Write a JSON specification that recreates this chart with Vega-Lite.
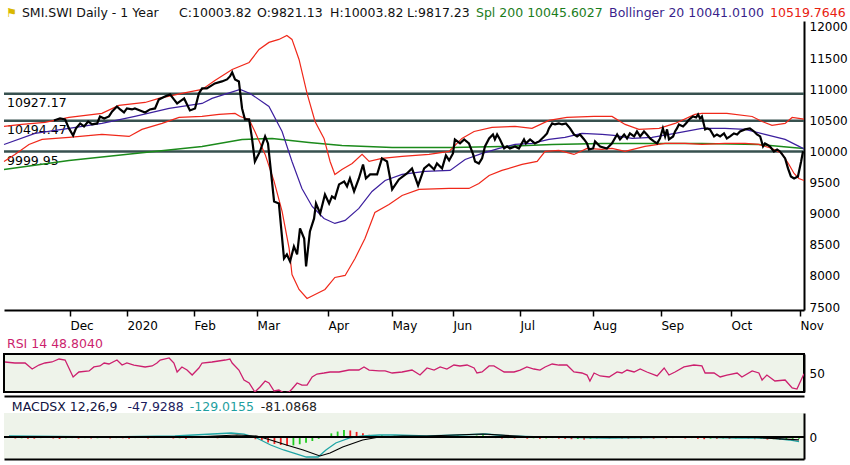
{
  "$schema": "https://vega.github.io/schema/vega-lite/v6.json",
  "padding": {"left": 1, "top": 7, "right": 3, "bottom": 3},
  "background": "white",
  "config": {
    "font": "DejaVu Sans",
    "view": {"stroke": null},
    "axis": {"grid": false, "title": null, "labelFont": "DejaVu Sans", "labelColor": "black", "labelFontSize": 12, "domainColor": "black", "domainWidth": 2, "labelOverlap": false}
  },
  "datasets": {
    "levels": [{"d": 0, "v": 10927.17}, {"d": 0, "v": 10494.47}, {"d": 0, "v": 9999.95}],
    "header": [
      {"t": "⚑", "d": 0.6, "v": 12160, "k": "flag"},
      {"t": "SMI.SWI Daily -  1 Year", "d": 5.6, "v": 12160, "k": "price"},
      {"t": "C:10003.82", "d": 54.7, "v": 12160, "k": "price"},
      {"t": "O:9821.13", "d": 79.1, "v": 12160, "k": "price"},
      {"t": "H:10003.82", "d": 101.9, "v": 12160, "k": "price"},
      {"t": "L:9817.23", "d": 125.9, "v": 12160, "k": "price"},
      {"t": "Spl 200 10045.6027", "d": 147.5, "v": 12160, "k": "spl"},
      {"t": "Bollinger 20 10041.0100", "d": 189.1, "v": 12160, "k": "boll"},
      {"t": "10519.7646", "d": 239.4, "v": 12160, "k": "band"}
    ],
    "macdhead": [
      {"t": "MACDSX 12,26,9", "d": 0.9, "k": "lbl"},
      {"t": "-47.9288", "d": 37.5, "k": "hist"},
      {"t": "-129.0155", "d": 57.2, "k": "macd"},
      {"t": "-81.0868", "d": 79.7, "k": "sig"}
    ],
    "price": [
      {"d":15.6,"v":10498},{"d":17.5,"v":10530},{"d":19.1,"v":10514},{"d":20.3,"v":10370},{"d":21.6,"v":10257},{"d":22.5,"v":10370},{"d":23.8,"v":10450},{"d":25,"v":10402},{"d":26.3,"v":10482},{"d":27.5,"v":10434},{"d":29.1,"v":10450},{"d":30,"v":10562},{"d":31.3,"v":10530},{"d":32.8,"v":10562},{"d":33.8,"v":10643},{"d":35.3,"v":10723},{"d":36.3,"v":10675},{"d":37.5,"v":10627},{"d":38.4,"v":10691},{"d":40,"v":10675},{"d":40.9,"v":10691},{"d":42.5,"v":10659},{"d":44.1,"v":10627},{"d":45.6,"v":10675},{"d":47.2,"v":10691},{"d":48.4,"v":10836},{"d":50.3,"v":10884},{"d":51.9,"v":10916},{"d":53.1,"v":10836},{"d":54.1,"v":10772},{"d":55,"v":10804},{"d":56.3,"v":10852},{"d":57.2,"v":10755},{"d":58.1,"v":10659},{"d":59.7,"v":10691},{"d":60.9,"v":10932},{"d":61.9,"v":11012},{"d":63.4,"v":11012},{"d":65.9,"v":11093},{"d":68.1,"v":11125},{"d":69.7,"v":11157},{"d":70.6,"v":11205},{"d":71.3,"v":11270},{"d":72.2,"v":11157},{"d":73.4,"v":11125},{"d":74.4,"v":10691},{"d":75.3,"v":10514},{"d":76.6,"v":10514},{"d":77.5,"v":10209},{"d":78.4,"v":9839},{"d":80,"v":10000},{"d":81.6,"v":10241},{"d":82.5,"v":10129},{"d":84.4,"v":9196},{"d":85.9,"v":9164},{"d":87.5,"v":8280},{"d":88.4,"v":8345},{"d":89.4,"v":8232},{"d":90.6,"v":8473},{"d":91.6,"v":8345},{"d":92.5,"v":8763},{"d":93.8,"v":8601},{"d":94.4,"v":8152},{"d":95.6,"v":8714},{"d":96.9,"v":8923},{"d":97.5,"v":9164},{"d":98.8,"v":9004},{"d":100.3,"v":9309},{"d":101.6,"v":9164},{"d":102.5,"v":9277},{"d":103.4,"v":9245},{"d":104.7,"v":9470},{"d":106.3,"v":9518},{"d":107.2,"v":9438},{"d":108.1,"v":9566},{"d":109.4,"v":9357},{"d":110.9,"v":9566},{"d":112.2,"v":9791},{"d":113.1,"v":9566},{"d":114.4,"v":9630},{"d":116.6,"v":9630},{"d":118.1,"v":9888},{"d":119.7,"v":9839},{"d":121.3,"v":9389},{"d":123.4,"v":9550},{"d":125.9,"v":9646},{"d":127.5,"v":9727},{"d":129.4,"v":9454},{"d":131.3,"v":9727},{"d":132.8,"v":9791},{"d":134.4,"v":9711},{"d":135.3,"v":9807},{"d":136.9,"v":9727},{"d":138.1,"v":9936},{"d":139.1,"v":9855},{"d":140.3,"v":9968},{"d":140.9,"v":10193},{"d":142.5,"v":10129},{"d":143.8,"v":10193},{"d":145.3,"v":10129},{"d":146.6,"v":9952},{"d":147.2,"v":9839},{"d":148.4,"v":9807},{"d":149.4,"v":9888},{"d":150.3,"v":10080},{"d":151.6,"v":10209},{"d":152.8,"v":10273},{"d":153.4,"v":10193},{"d":154.1,"v":10273},{"d":155,"v":10193},{"d":156.3,"v":10048},{"d":157.2,"v":10080},{"d":158.1,"v":10048},{"d":159.7,"v":10080},{"d":160.9,"v":10048},{"d":162.5,"v":10193},{"d":163.1,"v":10129},{"d":164.4,"v":10193},{"d":165.9,"v":10129},{"d":167.2,"v":10161},{"d":168.8,"v":10241},{"d":169.7,"v":10289},{"d":170.3,"v":10370},{"d":171.3,"v":10450},{"d":172.2,"v":10434},{"d":173.4,"v":10450},{"d":174.4,"v":10434},{"d":175.6,"v":10450},{"d":176.9,"v":10370},{"d":178.1,"v":10273},{"d":179.1,"v":10241},{"d":180,"v":10273},{"d":181.3,"v":10193},{"d":182.2,"v":10129},{"d":182.8,"v":10032},{"d":184.1,"v":10048},{"d":184.7,"v":10161},{"d":186.3,"v":10080},{"d":188.4,"v":10048},{"d":190,"v":10129},{"d":191.6,"v":10273},{"d":192.5,"v":10193},{"d":193.8,"v":10273},{"d":194.7,"v":10209},{"d":195.6,"v":10289},{"d":196.9,"v":10241},{"d":197.8,"v":10321},{"d":198.8,"v":10241},{"d":200,"v":10321},{"d":200.9,"v":10273},{"d":201.9,"v":10209},{"d":203.1,"v":10161},{"d":204.1,"v":10129},{"d":205,"v":10209},{"d":205.9,"v":10370},{"d":206.6,"v":10241},{"d":207.2,"v":10354},{"d":207.8,"v":10193},{"d":209.1,"v":10241},{"d":209.7,"v":10321},{"d":210.3,"v":10370},{"d":210.9,"v":10434},{"d":212.2,"v":10402},{"d":213.1,"v":10450},{"d":214.1,"v":10514},{"d":215.3,"v":10562},{"d":216.3,"v":10546},{"d":216.9,"v":10595},{"d":217.5,"v":10530},{"d":218.1,"v":10562},{"d":219.1,"v":10354},{"d":219.7,"v":10370},{"d":220.6,"v":10354},{"d":221.9,"v":10241},{"d":222.8,"v":10273},{"d":223.8,"v":10241},{"d":225,"v":10289},{"d":225.9,"v":10209},{"d":226.9,"v":10241},{"d":228.1,"v":10289},{"d":229.1,"v":10273},{"d":230,"v":10321},{"d":231.6,"v":10354},{"d":233.1,"v":10370},{"d":234.4,"v":10321},{"d":235.3,"v":10273},{"d":236.3,"v":10241},{"d":237.2,"v":10080},{"d":237.8,"v":10129},{"d":238.4,"v":10112},{"d":239.4,"v":10080},{"d":240.6,"v":10000},{"d":241.6,"v":10032},{"d":242.5,"v":10000},{"d":244.1,"v":9888},{"d":245,"v":9727},{"d":245.9,"v":9598},{"d":246.9,"v":9566},{"d":248.1,"v":9598},{"d":249.1,"v":9839},{"d":249.7,"v":10004}
    ],
    "upper": [
      {"d":0,"v":10402},{"d":5.6,"v":10434},{"d":12.8,"v":10466},{"d":20.3,"v":10546},{"d":30.6,"v":10611},{"d":35.9,"v":10740},{"d":44.1,"v":10787},{"d":48.4,"v":10852},{"d":55.6,"v":10932},{"d":61.9,"v":10996},{"d":65.9,"v":11141},{"d":71.3,"v":11318},{"d":76.6,"v":11430},{"d":79.7,"v":11639},{"d":82.8,"v":11752},{"d":85.9,"v":11800},{"d":88.4,"v":11864},{"d":90,"v":11800},{"d":92.2,"v":11478},{"d":94.7,"v":10932},{"d":97.2,"v":10482},{"d":100,"v":10209},{"d":101.9,"v":9839},{"d":103.4,"v":9630},{"d":105.6,"v":9711},{"d":108.8,"v":9807},{"d":111.9,"v":9952},{"d":114.1,"v":9839},{"d":118.1,"v":9888},{"d":124.4,"v":9920},{"d":132.8,"v":9952},{"d":139.1,"v":10000},{"d":143.1,"v":10209},{"d":146.9,"v":10321},{"d":152.5,"v":10386},{"d":159.7,"v":10402},{"d":165,"v":10370},{"d":170.3,"v":10498},{"d":175.9,"v":10546},{"d":184.4,"v":10562},{"d":190,"v":10562},{"d":194.1,"v":10434},{"d":198.4,"v":10354},{"d":204.7,"v":10370},{"d":209.7,"v":10450},{"d":215.9,"v":10595},{"d":218.1,"v":10611},{"d":225.9,"v":10611},{"d":233.8,"v":10562},{"d":236.9,"v":10482},{"d":240,"v":10418},{"d":244.1,"v":10450},{"d":246.3,"v":10546},{"d":250,"v":10520}
    ],
    "lower": [
      {"d":0,"v":9839},{"d":3.4,"v":9952},{"d":7.8,"v":10112},{"d":11.9,"v":10193},{"d":20.3,"v":10225},{"d":30.6,"v":10273},{"d":39.1,"v":10241},{"d":43.1,"v":10354},{"d":49.4,"v":10450},{"d":54.7,"v":10546},{"d":61.9,"v":10562},{"d":67.2,"v":10595},{"d":72.2,"v":10611},{"d":73.8,"v":10562},{"d":76.6,"v":10514},{"d":78.4,"v":10321},{"d":81.6,"v":9952},{"d":84.4,"v":9518},{"d":86.9,"v":9036},{"d":89.1,"v":8441},{"d":90,"v":8023},{"d":92.2,"v":7782},{"d":94.7,"v":7638},{"d":97.2,"v":7702},{"d":100.3,"v":7782},{"d":103.4,"v":7975},{"d":106.6,"v":8007},{"d":109.7,"v":8280},{"d":112.8,"v":8602},{"d":115.9,"v":9020},{"d":120.3,"v":9148},{"d":124.4,"v":9293},{"d":129.7,"v":9389},{"d":139.1,"v":9405},{"d":145.3,"v":9405},{"d":148.4,"v":9486},{"d":151.6,"v":9614},{"d":155.6,"v":9695},{"d":161.9,"v":9791},{"d":166.6,"v":9839},{"d":169.1,"v":10000},{"d":173.4,"v":10016},{"d":178.1,"v":9952},{"d":182.2,"v":10048},{"d":186.9,"v":10032},{"d":190,"v":10048},{"d":194.1,"v":10000},{"d":200.3,"v":10080},{"d":206.6,"v":10129},{"d":212.8,"v":10129},{"d":218.1,"v":10112},{"d":225.3,"v":10129},{"d":231.6,"v":10129},{"d":235.9,"v":10112},{"d":240,"v":10048},{"d":243.1,"v":9968},{"d":245.3,"v":9791},{"d":246.9,"v":9646},{"d":248.4,"v":9566},{"d":250,"v":9534}
    ],
    "mid": [
      {"d":0,"v":10112},{"d":9.7,"v":10289},{"d":20.3,"v":10370},{"d":30.6,"v":10450},{"d":40.9,"v":10562},{"d":51.6,"v":10691},{"d":61.9,"v":10771},{"d":65,"v":10852},{"d":73.8,"v":10996},{"d":76.9,"v":10932},{"d":82.8,"v":10723},{"d":86.9,"v":10321},{"d":90,"v":9839},{"d":93.1,"v":9405},{"d":96.3,"v":9116},{"d":100,"v":8923},{"d":103.4,"v":8843},{"d":106.6,"v":8891},{"d":110.9,"v":9084},{"d":115,"v":9357},{"d":119.1,"v":9534},{"d":124.4,"v":9630},{"d":131.6,"v":9679},{"d":139.4,"v":9695},{"d":144.1,"v":9871},{"d":149.4,"v":9968},{"d":154.7,"v":10048},{"d":159.7,"v":10112},{"d":165,"v":10129},{"d":170.3,"v":10193},{"d":175.3,"v":10225},{"d":180.6,"v":10289},{"d":186.9,"v":10273},{"d":190.6,"v":10257},{"d":196.3,"v":10209},{"d":202.5,"v":10225},{"d":209.7,"v":10289},{"d":218.1,"v":10370},{"d":225.3,"v":10370},{"d":231.6,"v":10354},{"d":237.8,"v":10273},{"d":244.1,"v":10193},{"d":250,"v":10041}
    ],
    "spl": [
      {"d":0,"v":9711},{"d":20.3,"v":9855},{"d":40.9,"v":9968},{"d":61.9,"v":10080},{"d":74.4,"v":10193},{"d":83.8,"v":10209},{"d":95.3,"v":10145},{"d":105.6,"v":10096},{"d":121.3,"v":10064},{"d":140,"v":10064},{"d":155.6,"v":10080},{"d":171.3,"v":10112},{"d":186.9,"v":10129},{"d":218.1,"v":10129},{"d":235.9,"v":10112},{"d":246.3,"v":10064},{"d":250,"v":10046}
    ],
    "rsi": [
      {"d":0.3,"v":67.4},{"d":3.4,"v":65.8},{"d":6.6,"v":65.8},{"d":8.8,"v":56.3},{"d":10.9,"v":62.6},{"d":12.8,"v":65.8},{"d":15,"v":67.4},{"d":17.2,"v":72.1},{"d":19.1,"v":70.5},{"d":21.6,"v":43.7},{"d":23.4,"v":51.6},{"d":26.6,"v":53.2},{"d":28.1,"v":59.5},{"d":30,"v":61.1},{"d":31.3,"v":65.8},{"d":32.8,"v":64.2},{"d":35.3,"v":70.5},{"d":36.9,"v":62.6},{"d":38.4,"v":65.8},{"d":40.6,"v":62.6},{"d":44.1,"v":59.5},{"d":46.3,"v":61.1},{"d":47.8,"v":65.8},{"d":48.8,"v":70.5},{"d":51.6,"v":73.7},{"d":53.1,"v":65.8},{"d":54.1,"v":51.6},{"d":55.6,"v":59.5},{"d":57.2,"v":54.7},{"d":58.8,"v":46.8},{"d":60.9,"v":57.9},{"d":61.9,"v":65.8},{"d":65,"v":67.4},{"d":69.1,"v":70.5},{"d":70.6,"v":72.1},{"d":71.3,"v":65.8},{"d":73.4,"v":54.7},{"d":75,"v":38.9},{"d":76.6,"v":34.2},{"d":78.4,"v":20},{"d":80,"v":27.9},{"d":81.6,"v":37.4},{"d":82.8,"v":34.2},{"d":84.4,"v":21.6},{"d":85.9,"v":23.1},{"d":87.5,"v":18.4},{"d":89.1,"v":20},{"d":90,"v":24.7},{"d":91.6,"v":34.2},{"d":93.1,"v":31},{"d":94.7,"v":31},{"d":96.3,"v":43.7},{"d":97.8,"v":48.4},{"d":100,"v":50},{"d":101.9,"v":51.6},{"d":104.7,"v":51.6},{"d":107.8,"v":54.7},{"d":110.9,"v":54.7},{"d":112.5,"v":59.5},{"d":114.1,"v":54.7},{"d":117.2,"v":53.2},{"d":119.1,"v":53.2},{"d":121.3,"v":50},{"d":124.4,"v":51.6},{"d":127.5,"v":54.7},{"d":130,"v":46.8},{"d":132.2,"v":57.9},{"d":134.4,"v":54.7},{"d":136.3,"v":59.5},{"d":138.4,"v":56.3},{"d":140.6,"v":62.6},{"d":142.5,"v":61.1},{"d":144.7,"v":62.6},{"d":146.9,"v":57.9},{"d":147.8,"v":50},{"d":149.4,"v":51.6},{"d":151.6,"v":61.1},{"d":153.1,"v":61.1},{"d":154.7,"v":56.3},{"d":156.3,"v":51.6},{"d":159.4,"v":51.6},{"d":161.3,"v":54.7},{"d":163.4,"v":59.5},{"d":165.6,"v":56.3},{"d":167.5,"v":54.7},{"d":169.1,"v":59.5},{"d":171.3,"v":64.2},{"d":173.4,"v":62.6},{"d":175.9,"v":62.6},{"d":178.1,"v":51.6},{"d":180.6,"v":50},{"d":182.2,"v":46.8},{"d":183.1,"v":37.4},{"d":184.4,"v":50},{"d":186.3,"v":45.3},{"d":189.1,"v":43.7},{"d":191.6,"v":51.6},{"d":193.1,"v":50},{"d":194.7,"v":54.7},{"d":196.9,"v":51.6},{"d":198.8,"v":56.3},{"d":200.9,"v":51.6},{"d":204.1,"v":45.3},{"d":206.3,"v":57.9},{"d":207.8,"v":46.8},{"d":209.7,"v":51.6},{"d":212.5,"v":59.5},{"d":215.6,"v":62.6},{"d":218.1,"v":61.1},{"d":219.1,"v":50},{"d":221.9,"v":50},{"d":223.8,"v":43.7},{"d":225.9,"v":46.8},{"d":229.1,"v":50},{"d":230.6,"v":43.7},{"d":233.8,"v":53.2},{"d":235.9,"v":50},{"d":236.9,"v":38.9},{"d":238.4,"v":46.8},{"d":240.9,"v":37.4},{"d":244.1,"v":38.9},{"d":246.3,"v":26.3},{"d":247.8,"v":24.7},{"d":250,"v":48.8}
    ],
    "macd": [
      {"d":0,"v":27},{"d":30.6,"v":0},{"d":52.5,"v":27},{"d":70.3,"v":110},{"d":74.4,"v":82},{"d":78.4,"v":-27},{"d":82.8,"v":-220},{"d":86.9,"v":-357},{"d":90.9,"v":-467},{"d":94.1,"v":-550},{"d":97.8,"v":-550},{"d":100.3,"v":-357},{"d":103.4,"v":-165},{"d":107.8,"v":-27},{"d":111.9,"v":27},{"d":117.2,"v":55},{"d":122.2,"v":55},{"d":132.2,"v":27},{"d":142.5,"v":55},{"d":150.9,"v":82},{"d":158.1,"v":27},{"d":168.8,"v":0},{"d":179.1,"v":-14},{"d":189.4,"v":-27},{"d":202.5,"v":-14},{"d":215.6,"v":0},{"d":231.3,"v":-27},{"d":241.6,"v":-27},{"d":246.9,"v":-82},{"d":250,"v":-129}
    ],
    "signal": [
      {"d":0,"v":0},{"d":30.6,"v":0},{"d":61.9,"v":14},{"d":72.2,"v":55},{"d":78.4,"v":27},{"d":82.8,"v":-82},{"d":87.8,"v":-220},{"d":93.1,"v":-357},{"d":98.4,"v":-522},{"d":101.6,"v":-440},{"d":105.6,"v":-275},{"d":111.9,"v":-82},{"d":117.2,"v":0},{"d":124.4,"v":27},{"d":132.2,"v":27},{"d":150,"v":82},{"d":163.4,"v":14},{"d":194.7,"v":0},{"d":236.3,"v":-14},{"d":250,"v":-81}
    ],
    "hist": [
      {"d":0,"v":-30,"c":"up"},{"d":2,"v":-40,"c":"down"},{"d":4,"v":-35,"c":"up"},{"d":6,"v":-50,"c":"down"},{"d":8,"v":-45,"c":"down"},{"d":10,"v":-30,"c":"up"},{"d":12,"v":-25,"c":"up"},{"d":14,"v":-40,"c":"down"},{"d":16,"v":-55,"c":"down"},{"d":18,"v":-35,"c":"up"},{"d":20,"v":-30,"c":"up"},{"d":22,"v":-45,"c":"down"},{"d":24,"v":-30,"c":"up"},{"d":26,"v":-40,"c":"down"},{"d":28,"v":-35,"c":"up"},{"d":30,"v":-25,"c":"up"},{"d":32,"v":-40,"c":"down"},{"d":34,"v":-30,"c":"up"},{"d":36,"v":-35,"c":"down"},{"d":38,"v":-45,"c":"down"},{"d":40,"v":-30,"c":"up"},{"d":42,"v":-25,"c":"up"},{"d":44,"v":-40,"c":"down"},{"d":46,"v":-30,"c":"up"},{"d":48,"v":-20,"c":"up"},{"d":50,"v":-30,"c":"down"},{"d":52,"v":-40,"c":"down"},{"d":54,"v":-35,"c":"up"},{"d":56,"v":-45,"c":"down"},{"d":58,"v":-30,"c":"up"},{"d":60,"v":-20,"c":"up"},{"d":62,"v":-30,"c":"down"},{"d":64,"v":-25,"c":"up"},{"d":66,"v":-35,"c":"down"},{"d":68,"v":-20,"c":"up"},{"d":70,"v":20,"c":"up"},{"d":72,"v":40,"c":"up"},{"d":74,"v":30,"c":"down"},{"d":76,"v":-20,"c":"down"},{"d":78,"v":-60,"c":"down"},{"d":80,"v":-100,"c":"down"},{"d":82,"v":-150,"c":"down"},{"d":84,"v":-190,"c":"down"},{"d":86,"v":-220,"c":"down"},{"d":88,"v":-240,"c":"down"},{"d":90,"v":-230,"c":"up"},{"d":92,"v":-200,"c":"up"},{"d":94,"v":-160,"c":"up"},{"d":96,"v":-110,"c":"up"},{"d":98,"v":-50,"c":"up"},{"d":100,"v":30,"c":"up"},{"d":102,"v":100,"c":"up"},{"d":104,"v":150,"c":"up"},{"d":106,"v":190,"c":"up"},{"d":108,"v":180,"c":"down"},{"d":110,"v":140,"c":"down"},{"d":112,"v":100,"c":"down"},{"d":114,"v":60,"c":"down"},{"d":116,"v":40,"c":"down"},{"d":118,"v":50,"c":"up"},{"d":120,"v":30,"c":"down"},{"d":122,"v":40,"c":"up"},{"d":124,"v":20,"c":"down"},{"d":126,"v":30,"c":"up"},{"d":128,"v":10,"c":"down"},{"d":130,"v":-20,"c":"down"},{"d":132,"v":20,"c":"up"},{"d":134,"v":30,"c":"up"},{"d":136,"v":-20,"c":"down"},{"d":138,"v":20,"c":"up"},{"d":140,"v":40,"c":"up"},{"d":142,"v":50,"c":"up"},{"d":144,"v":30,"c":"down"},{"d":146,"v":-20,"c":"down"},{"d":148,"v":40,"c":"up"},{"d":150,"v":50,"c":"up"},{"d":152,"v":30,"c":"down"},{"d":154,"v":-30,"c":"down"},{"d":156,"v":-40,"c":"down"},{"d":158,"v":-30,"c":"up"},{"d":160,"v":-40,"c":"down"},{"d":162,"v":-30,"c":"up"},{"d":164,"v":-45,"c":"down"},{"d":166,"v":-35,"c":"up"},{"d":168,"v":-50,"c":"down"},{"d":170,"v":-40,"c":"up"},{"d":172,"v":-30,"c":"up"},{"d":174,"v":-45,"c":"down"},{"d":176,"v":-50,"c":"down"},{"d":178,"v":-60,"c":"down"},{"d":180,"v":-55,"c":"up"},{"d":182,"v":-70,"c":"down"},{"d":184,"v":-50,"c":"up"},{"d":186,"v":-40,"c":"up"},{"d":188,"v":-30,"c":"up"},{"d":190,"v":-40,"c":"down"},{"d":192,"v":-30,"c":"up"},{"d":194,"v":-40,"c":"down"},{"d":196,"v":-50,"c":"down"},{"d":198,"v":-30,"c":"up"},{"d":200,"v":-40,"c":"down"},{"d":202,"v":-30,"c":"up"},{"d":204,"v":-45,"c":"down"},{"d":206,"v":-30,"c":"up"},{"d":208,"v":-40,"c":"down"},{"d":210,"v":-30,"c":"up"},{"d":212,"v":-25,"c":"up"},{"d":214,"v":-40,"c":"down"},{"d":216,"v":-30,"c":"up"},{"d":218,"v":-50,"c":"down"},{"d":220,"v":-60,"c":"down"},{"d":222,"v":-45,"c":"up"},{"d":224,"v":-50,"c":"down"},{"d":226,"v":-40,"c":"up"},{"d":228,"v":-55,"c":"down"},{"d":230,"v":-40,"c":"up"},{"d":232,"v":-30,"c":"up"},{"d":234,"v":-45,"c":"down"},{"d":236,"v":-60,"c":"down"},{"d":238,"v":-50,"c":"up"},{"d":240,"v":-70,"c":"down"},{"d":242,"v":-60,"c":"up"},{"d":244,"v":-80,"c":"down"},{"d":246,"v":-60,"c":"up"},{"d":248,"v":-50,"c":"up"},{"d":250,"v":-48,"c":"up"}
    ]
  },
  "spacing": 44,
  "bounds": "flush",
  "vconcat": [
    {
      "width": 800,
      "height": 289,
      "encoding": {
        "x": {
          "field": "d", "type": "quantitative",
          "scale": {"domain": [0, 250], "nice": false, "zero": false},
          "axis": {
            "values": [20.6, 38.4, 59.4, 79.1, 101.25, 121.25, 140.3, 161.25, 184.1, 205.3, 227.2, 248.75],
            "labelExpr": "['Dec','2020','Feb','Mar','Apr','May','Jun','Jul','Aug','Sep','Oct','Nov'][indexof([20.6,38.4,59.4,79.1,101.25,121.25,140.3,161.25,184.1,205.3,227.2,248.75], datum.value)]",
            "labelAlign": "left", "labelBaseline": "top", "labelPadding": 4,
            "tickSize": 6, "tickWidth": 1.5, "tickColor": "black",
            "labelOverlap": false, "labelFlush": false, "labelBound": false
          }
        },
        "y": {
          "field": "v", "type": "quantitative",
          "scale": {"domain": [7452, 12096], "nice": false, "zero": false},
          "axis": {
            "orient": "right",
            "values": [7500, 8000, 8500, 9000, 9500, 10000, 10500, 11000, 11500, 12000],
            "format": "d", "ticks": false, "labelPadding": 5,
            "labelOverlap": false, "labelFlush": false, "labelBound": false
          }
        }
      },
      "layer": [
        {
          "data": {"name": "levels"},
          "mark": {"type": "rule", "color": "#37514f", "strokeWidth": 2.5},
          "encoding": {"x2": {"datum": 250}}
        },
        {
          "data": {"name": "levels"},
          "mark": {"type": "text", "align": "left", "baseline": "alphabetic", "dx": 3, "dy": 13.5, "fontSize": 12.5, "color": "black"},
          "encoding": {"text": {"field": "v", "type": "quantitative", "format": ".2f"}}
        },
        {"data": {"name": "spl"}, "mark": {"type": "line", "color": "#1b8a1b", "strokeWidth": 1.5}},
        {"data": {"name": "upper"}, "mark": {"type": "line", "color": "#f0281a", "strokeWidth": 1.2}},
        {"data": {"name": "lower"}, "mark": {"type": "line", "color": "#f0281a", "strokeWidth": 1.2}},
        {"data": {"name": "mid"}, "mark": {"type": "line", "color": "#3c1f9e", "strokeWidth": 1.2}},
        {"data": {"name": "price"}, "mark": {"type": "line", "color": "black", "strokeWidth": 2.2}},
        {
          "data": {"name": "header"},
          "mark": {"type": "text", "align": "left", "baseline": "alphabetic", "fontSize": 12.5},
          "encoding": {
            "text": {"field": "t"},
            "color": {"field": "k", "type": "nominal", "scale": {"domain": ["flag", "price", "spl", "boll", "band"], "range": ["#d9b800", "#111111", "#1b7d1b", "#3a1f8c", "#e8200f"]}, "legend": null}
          }
        }
      ]
    },
    {
      "spacing": 21,
      "bounds": "flush",
      "vconcat": [
        {
          "width": 800,
          "height": 38,
          "title": {"text": "RSI 14  48.8040", "anchor": "start", "color": "#cc1f6e", "font": "DejaVu Sans", "fontSize": 12.5, "fontWeight": "normal", "offset": 7, "dx": 3, "dy": 13, "baseline": "alphabetic"},
          "view": {"fill": "#eef3ea", "stroke": "black", "strokeWidth": 2},
          "data": {"name": "rsi"},
          "mark": {"type": "line", "color": "#cc1f6e", "strokeWidth": 1.3, "clip": true},
          "encoding": {
            "x": {"field": "d", "type": "quantitative", "scale": {"domain": [0, 250], "nice": false, "zero": false}, "axis": {"orient": "bottom", "offset": 4, "labels": false, "ticks": false}},
            "y": {"field": "v", "type": "quantitative", "scale": {"domain": [20, 80], "nice": false, "zero": false}, "axis": {"orient": "right", "values": [50], "ticks": false, "labelPadding": 5}}
          }
        },
        {
          "width": 800,
          "height": 46,
          "view": {"fill": "#eef3ea", "stroke": null},
          "resolve": {"scale": {"color": "independent"}},
          "layer": [
            {
              "data": {"name": "hist"},
              "mark": {"type": "bar", "size": 1.8},
              "encoding": {
                "x": {"field": "d", "type": "quantitative", "scale": {"domain": [0, 250], "nice": false, "zero": false}, "axis": {"orient": "bottom", "labels": false, "ticks": false}},
                "y": {"field": "v", "type": "quantitative", "scale": {"domain": [-605, 660], "nice": false, "zero": false}, "axis": {"orient": "right", "values": [0], "ticks": false, "labelPadding": 5}},
                "y2": {"datum": 0},
                "color": {"field": "c", "type": "nominal", "scale": {"domain": ["up", "down"], "range": ["#1fcc1f", "#f01e1e"]}, "legend": null}
              }
            },
            {
              "data": {"name": "macd"},
              "mark": {"type": "line", "color": "#1fa5a5", "strokeWidth": 1.3},
              "encoding": {
                "x": {"field": "d", "type": "quantitative", "scale": {"domain": [0, 250], "nice": false, "zero": false}},
                "y": {"field": "v", "type": "quantitative", "scale": {"domain": [-605, 660], "nice": false, "zero": false}}
              }
            },
            {
              "data": {"name": "signal"},
              "mark": {"type": "line", "color": "black", "strokeWidth": 1.2},
              "encoding": {
                "x": {"field": "d", "type": "quantitative", "scale": {"domain": [0, 250], "nice": false, "zero": false}},
                "y": {"field": "v", "type": "quantitative", "scale": {"domain": [-605, 660], "nice": false, "zero": false}}
              }
            },
            {
              "data": {"values": [{"v": 0}]},
              "mark": {"type": "rule", "color": "black", "strokeWidth": 2},
              "encoding": {
                "y": {"field": "v", "type": "quantitative", "scale": {"domain": [-605, 660], "nice": false, "zero": false}}
              }
            },
            {
              "data": {"name": "macdhead"},
              "mark": {"type": "text", "align": "left", "baseline": "alphabetic", "fontSize": 12.5},
              "encoding": {
                "x": {"field": "d", "type": "quantitative", "scale": {"domain": [0, 250], "nice": false, "zero": false}},
                "y": {"datum": 703, "type": "quantitative", "scale": {"domain": [-605, 660], "nice": false, "zero": false}},
                "text": {"field": "t"},
                "color": {"field": "k", "type": "nominal", "scale": {"domain": ["lbl", "hist", "macd", "sig"], "range": ["#0f1240", "#1c1c5e", "#1fa0a0", "#222222"]}, "legend": null}
              }
            }
          ]
        }
      ]
    }
  ]
}
